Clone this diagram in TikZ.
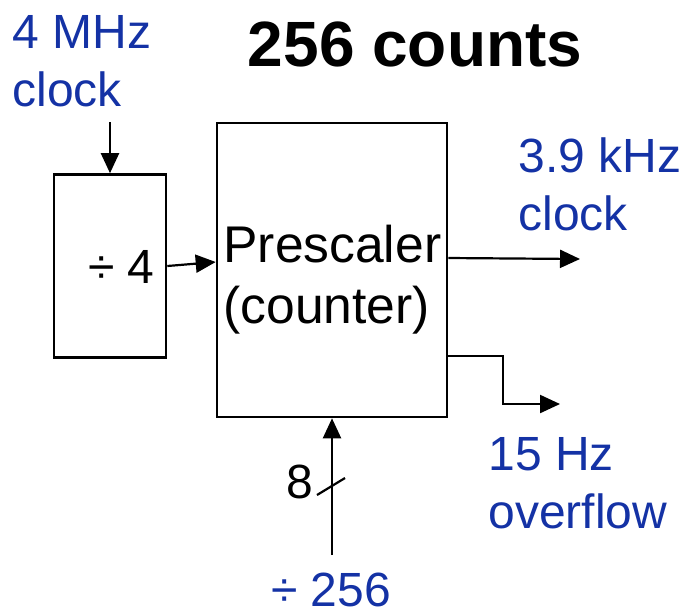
\documentclass[tikz,border=0pt]{standalone}
\usepackage{fontspec}
\setmainfont{Liberation Sans}
\usepackage{xcolor}
\usetikzlibrary{arrows.meta, positioning, calc}
\definecolor{labelblue}{RGB}{20, 50, 165}

\begin{document}
\begin{tikzpicture}[
    x=0.5pt, y=-0.5pt,
    blk/.style={draw, line width=1.3pt, inner sep=0pt},
    arrow/.style={-{Triangle[length=10pt, width=9pt]}, line width=1.1pt},
    sig/.style={font=\fontsize{24}{29}\selectfont, text=labelblue, inner sep=0pt, align=left},
    txt/.style={font=\fontsize{24}{28}\selectfont, inner sep=0pt}
]
\useasboundingbox (0,0) rectangle (683,612);

% Title
\node[font=\fontsize{32}{36}\selectfont\bfseries, inner sep=0pt, anchor=base] (title) at (415,66) {256 counts};

% Blocks
\node[blk, minimum width=56pt, minimum height=91.5pt] (div) at (110,266) {};
\node[txt, anchor=base east] (divtxt) at (155,283) {÷ 4};
\node[blk, minimum width=115pt, minimum height=147pt] (pre) at (332,270) {};
\node[txt, font=\fontsize{25.8}{30.5}\selectfont, align=left, anchor=base west] (pretxt) at (223,323) {Prescaler\\(counter)};

% Signal labels (base = last line)
\node[sig, anchor=base west] (clkin) at (12,106) {4 MHz\\clock};
\node[sig, anchor=base west] (clkout) at (518,230) {3.9 kHz\\clock};
\node[sig, anchor=base west] (ovf) at (488,528) {15 Hz\\overflow};
\node[sig, anchor=base] (sel) at (331,606) {÷ 256};
\node[txt, anchor=base] (width) at (300,498) {8};

% Connector ends
\coordinate (clkinend) at (110,122);
\coordinate (clkoutend) at (580,259);
\coordinate (ovfend) at (560,404);
\coordinate (busend) at (332,555);

% Arrows
\draw[arrow] (clkinend) -- (div.north);
\draw[arrow] (div.east) -- ([yshift=4pt]pre.west);
\draw[arrow] ([yshift=6pt]pre.east) -- (clkoutend);
\draw[arrow] ([yshift=-43pt]pre.east) -- ++(55,0) |- (ovfend);
\draw[arrow] (busend) -- (pre.south);
\draw[line width=1.1pt] (317,495) -- (345,478);

\end{tikzpicture}
\end{document}
